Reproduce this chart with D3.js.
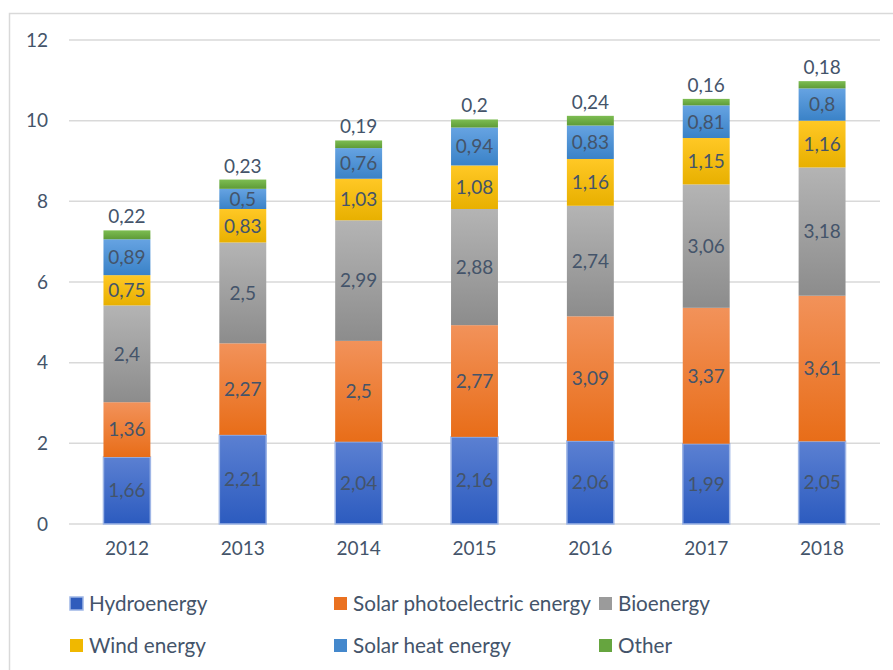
<!DOCTYPE html>
<html>
<head>
<meta charset="utf-8">
<script src="https://cdn.jsdelivr.net/npm/d3@7"></script>
<style>
  body { margin: 0; background: #fff; }
  svg { display: block; font-family: Lato, "Open Sans", sans-serif; }
</style>
</head>
<body>
<div class="graph"></div>
<script>
const width = 893;
const height = 670;
const margin = {top: 40, right: 13, bottom: 146, left: 69};
const innerWidth = width - margin.left - margin.right;
const innerHeight = height - margin.top - margin.bottom;

const years = ['2012', '2013', '2014', '2015', '2016', '2017', '2018'];
const seriesNames = ['Hydroenergy', 'Solar photoelectric energy', 'Bioenergy',
                     'Wind energy', 'Solar heat energy', 'Other'];
const hydro = [1.66, 2.21, 2.04, 2.16, 2.06, 1.99, 2.05];
const solarPv = [1.36, 2.27, 2.5, 2.77, 3.09, 3.37, 3.61];
const bio = [2.4, 2.5, 2.99, 2.88, 2.74, 3.06, 3.18];
const wind = [0.75, 0.83, 1.03, 1.08, 1.16, 1.15, 1.16];
const solarHeat = [0.89, 0.5, 0.76, 0.94, 0.83, 0.81, 0.8];
const other = [0.22, 0.23, 0.19, 0.2, 0.24, 0.16, 0.18];
const yTicks = [0, 2, 4, 6, 8, 10, 12];

// top / bottom of each gradient
const colors = [
  ['#5b80d2', '#2c5bbf'],
  ['#f2925a', '#e86d18'],
  ['#b4b4b4', '#8c8c8c'],
  ['#ffc825', '#e8b000'],
  ['#66a3e2', '#3a82c7'],
  ['#7dbd52', '#5e9b37']
];
const legendColors = ['#2f5cbc', '#ea7120', '#9b9b9b', '#f0b800', '#4488cc', '#66a53f'];

const rows = years.map((y, i) => ({
  year: y,
  'Hydroenergy': hydro[i],
  'Solar photoelectric energy': solarPv[i],
  'Bioenergy': bio[i],
  'Wind energy': wind[i],
  'Solar heat energy': solarHeat[i],
  'Other': other[i]
}));

const stacked = d3.stack().keys(seriesNames)(rows);

const svg = d3.select('.graph').append('svg')
  .attr('width', width)
  .attr('height', height);

const defs = svg.append('defs');
colors.forEach((c, i) => {
  const g = defs.append('linearGradient')
    .attr('id', 'grad' + i)
    .attr('x1', 0).attr('y1', 0).attr('x2', 0).attr('y2', 1);
  g.append('stop').attr('offset', '0%').attr('stop-color', c[0]);
  g.append('stop').attr('offset', '100%').attr('stop-color', c[1]);
});

// chart frame (right and bottom edges fall outside the picture)
svg.append('path')
  .attr('d', `M9.5,${height}V13.5H${width}`)
  .attr('fill', 'none')
  .attr('stroke', '#d9d9d9')
  .attr('stroke-width', 1.5);

const chart = svg.append('g')
  .attr('transform', `translate(${margin.left}, ${margin.top})`);

const x = d3.scaleBand()
  .domain(years)
  .range([0, 811])
  .paddingInner(0.595)
  .paddingOuter(0.2975);

const y = d3.scaleLinear()
  .domain([0, 12])
  .range([innerHeight, 0]);

// gridlines
chart.append('g')
  .selectAll('line')
  .data(yTicks)
  .join('line')
  .attr('x1', 0).attr('x2', 811)
  .attr('y1', d => y(d)).attr('y2', d => y(d))
  .attr('stroke', '#d9d9d9')
  .attr('stroke-width', 1.5);

// y labels
const yAxis = d3.axisLeft(y).tickValues(yTicks).tickSize(0).tickPadding(21);
chart.append('g')
  .call(yAxis)
  .call(g => g.select('.domain').remove())
  .call(g => g.selectAll('text')
    .attr('fill', '#44546a')
    .style('font-size', '19px')
    .style('font-family', 'Lato, sans-serif'));

// x labels
const xAxis = d3.axisBottom(x).tickSize(0).tickPadding(18);
chart.append('g')
  .attr('transform', `translate(0, ${innerHeight})`)
  .call(xAxis)
  .call(g => g.select('.domain').remove())
  .call(g => g.selectAll('text')
    .attr('fill', '#44546a')
    .style('font-size', '19px')
    .style('font-family', 'Lato, sans-serif'));

const fmt = v => String(v).replace('.', ',');

stacked.forEach((s, i) => {
  const layer = chart.append('g');
  layer.selectAll('rect')
    .data(s)
    .join('rect')
    .attr('x', d => x(d.data.year))
    .attr('width', x.bandwidth())
    .attr('y', d => y(d[1]))
    .attr('height', d => y(d[0]) - y(d[1]))
    .attr('fill', `url(#grad${i})`)
    .attr('stroke', i === 0 ? '#9fb6e6' : 'none')
    .attr('stroke-width', i === 0 ? 1.5 : 0);
});

// value labels on top of all segments
stacked.forEach((s, i) => {
  chart.append('g').selectAll('text')
    .data(s)
    .join('text')
    .attr('x', d => x(d.data.year) + x.bandwidth() / 2)
    .attr('y', d => i === 5 ? y(d[1]) - 7 : (y(d[0]) + y(d[1])) / 2)
    .attr('dy', i === 5 ? 0 : '0.36em')
    .attr('text-anchor', 'middle')
    .attr('fill', '#44546a')
    .style('font-size', '19px')
    .text(d => fmt(d.data[s.key]));
});

// legend
const legendPos = [[70, 603.5], [334, 603.5], [599, 603.5], [70, 645.5], [334, 645.5], [599, 645.5]];
const legend = svg.append('g');
seriesNames.forEach((name, i) => {
  const [lx, ly] = legendPos[i];
  legend.append('rect')
    .attr('x', lx).attr('y', ly - 6.5)
    .attr('width', 13).attr('height', 13)
    .attr('fill', legendColors[i])
    .attr('stroke', i === 0 ? '#9fb6e6' : 'none')
    .attr('stroke-width', 1.5);
  legend.append('text')
    .attr('x', lx + 19).attr('y', ly)
    .attr('dy', '0.36em')
    .attr('fill', '#44546a')
    .style('font-size', '20.7px')
    .text(name);
});
</script>
</body>
</html>
